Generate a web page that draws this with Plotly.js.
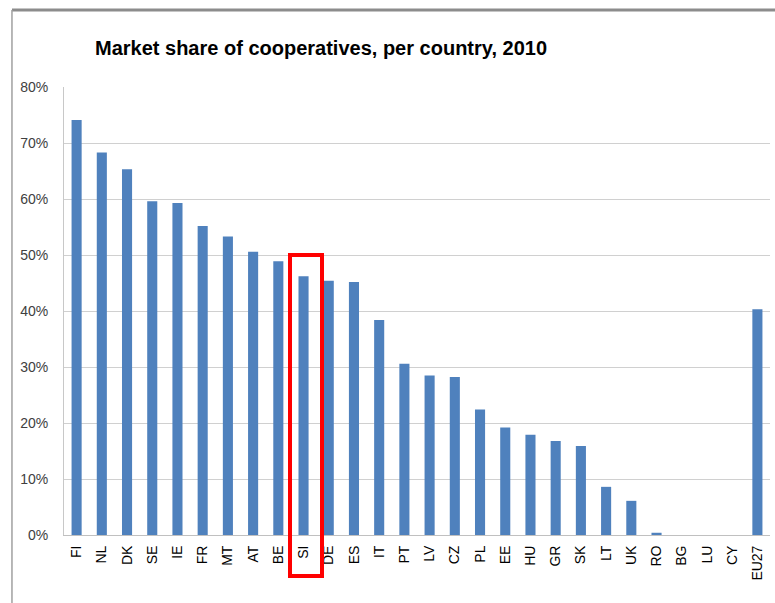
<!DOCTYPE html>
<html>
<head>
<meta charset="utf-8">
<script src="https://cdn.plot.ly/plotly-3.0.1.min.js"></script>
<style>html,body{margin:0;padding:0;background:#fff;}#chart{width:775px;height:603px;}</style>
</head>
<body>
<div id="chart"></div>
<script>
const countries = ["FI","NL","DK","SE","IE","FR","MT","AT","BE","SI","DE","ES","IT","PT","LV","CZ","PL","EE","HU","GR","SK","LT","UK","RO","BG","LU","CY","EU27"];
const shares = [74.1,68.3,65.3,59.6,59.3,55.2,53.3,50.6,48.9,46.2,45.4,45.2,38.4,30.6,28.5,28.2,22.4,19.2,17.9,16.8,15.9,8.6,6.1,0.4,0,0,0,40.3];
const yTickVals = [0,10,20,30,40,50,60,70,80];
const yTickText = ["0%","10%","20%","30%","40%","50%","60%","70%","80%"];
const titleText = "Market share of cooperatives, per country, 2010";

const trace = {
  type: "bar",
  x: countries,
  y: shares,
  marker: {color: "#4f81bd", line: {width: 0}},
  hoverinfo: "x+y"
};

const layout = {
  width: 775, height: 603,
  margin: {l: 64, r: 5, t: 87, b: 68},
  paper_bgcolor: "#ffffff",
  plot_bgcolor: "#ffffff",
  showlegend: false,
  bargap: 0.6,
  title: {
    text: titleText,
    font: {family: "Liberation Sans, Arial, sans-serif", size: 20, color: "#000000", weight: "bold"},
    x: 95/775, xanchor: "left", xref: "container",
    y: 1 - 48/603, yanchor: "middle", yref: "container"
  },
  xaxis: {
    type: "category",
    tickangle: -90,
    tickfont: {family: "Liberation Sans, Arial, sans-serif", size: 14, color: "#000000"},
    showgrid: false,
    showline: true, linecolor: "#c0c0c0", linewidth: 1,
    ticks: "", ticklabelstandoff: 4,
    fixedrange: true
  },
  yaxis: {
    range: [0, 80],
    tickvals: yTickVals,
    ticktext: yTickText,
    tickfont: {family: "Liberation Sans, Arial, sans-serif", size: 14, color: "#404040"},
    showgrid: true, gridcolor: "#d0d0d0", gridwidth: 1,
    zeroline: false,
    showline: true, linecolor: "#c8c8c8", linewidth: 1,
    ticks: "", ticklabelstandoff: 12,
    fixedrange: true
  },
  shapes: [
    {type: "line", xref: "paper", yref: "paper", x0: -0.0737, x1: 1.05, y0: 1.1719, y1: 1.1719,
     line: {color: "#8c8c8c", width: 3}},
    {type: "line", xref: "paper", yref: "paper", x0: -0.0737, x1: -0.0737, y0: 1.1719, y1: -0.2,
     line: {color: "#a0a0a0", width: 1.5}},
    {type: "rect", xref: "paper", yref: "paper", x0: (290-64)/706, x1: (322-64)/706,
     y0: (535-576)/448, y1: (535-255)/448,
     line: {color: "#ff0000", width: 4}, fillcolor: "rgba(0,0,0,0)"}
  ]
};

Plotly.newPlot("chart", [trace], layout, {displayModeBar: false, staticPlot: true});
</script>
</body>
</html>
